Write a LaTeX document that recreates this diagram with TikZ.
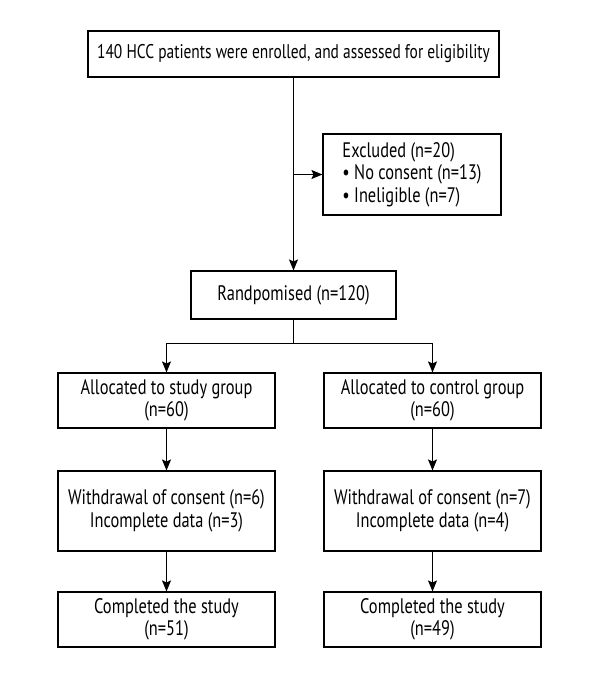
\documentclass[tikz,border=0pt]{standalone}
\usepackage{fontspec}
\setmainfont{PT Sans}[FakeStretch=0.78]
\usetikzlibrary{arrows.meta,calc}

\begin{document}
\begin{tikzpicture}[x=1pt,y=-1pt]
				\tikzset{box/.style={
						draw,
						line width=1.1pt,
						align=center,
						inner sep=2pt,
						font=\fontsize{21}{22.5}\selectfont
				},
				flow/.style={
						line width=1.2pt,
						>={Stealth[length=11pt,width=9pt,inset=2pt]}
				}}
				
				\useasboundingbox (0,0) rectangle (600,680);
				
				%% ENROLMENT
				\node[box, minimum width=411pt, minimum height=46pt, font=\fontsize{19.8}{22.5}\selectfont] (Enrolled) at (293.5,54) {140 HCC patients were enrolled, and assessed for eligibility};
				\node[box, align=left, minimum width=178pt, minimum height=81pt] (Excluded) at (412,174.5) {Excluded (n=20)\\• No consent (n=13)\\• Ineligible (n=7)};
				\node[box, minimum width=205pt, minimum height=48pt] (Random) at (293.5,295) {Randpomised (n=120)};
				
				%% ALLOCATION
				\node[box, minimum width=217pt, minimum height=55pt] (AllocStudy) at (166.5,400.5) {Allocated to study group\\(n=60)};
				\node[box, minimum width=217pt, minimum height=55pt] (AllocCtrl) at (432.5,400.5) {Allocated to control group\\(n=60)};
				
				%% FOLLOW UP
				\node[box, minimum width=217pt, minimum height=80pt] (LostStudy) at (166.5,511) {Withdrawal of consent (n=6)\\Incomplete data (n=3)};
				\node[box, minimum width=217pt, minimum height=80pt] (LostCtrl) at (432.5,511) {Withdrawal of consent (n=7)\\Incomplete data (n=4)};
				
				%% ANALYSIS
				\node[box, minimum width=217pt, minimum height=55pt] (DoneStudy) at (166.5,619.5) {Completed the study\\(n=51)};
				\node[box, minimum width=217pt, minimum height=55pt] (DoneCtrl) at (432.5,619.5) {Completed the study\\(n=49)};
				
				\coordinate (ExclSplit) at (Random.north |- Excluded.west);
				\coordinate (Fork) at ($(Random.south)+(0,24)$);
				
				\draw[->, flow] (Random.north |- Enrolled.south) -- (Random.north);
				\draw[->, flow] (ExclSplit) -- (Excluded.west);
				\draw[flow] (Random.south) -- (Fork);
				\draw[->, flow] (Fork) -| (AllocStudy.north);
				\draw[->, flow] (Fork) -| (AllocCtrl.north);
				
				\draw[->, flow] (AllocStudy) -- (LostStudy);
				\draw[->, flow] (AllocCtrl) -- (LostCtrl);
				\draw[->, flow] (LostStudy) -- (DoneStudy);
				\draw[->, flow] (LostCtrl) -- (DoneCtrl);
				
			\end{tikzpicture}
\end{document}
